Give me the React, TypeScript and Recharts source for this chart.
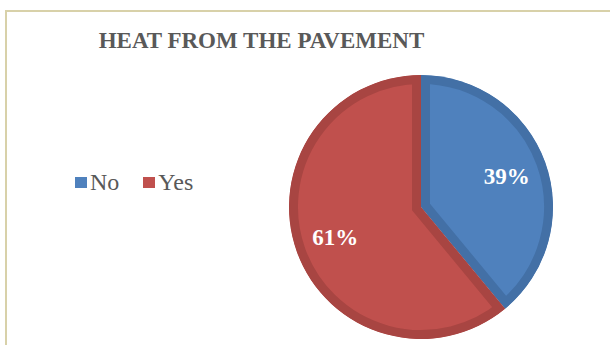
import React from 'react';
import { PieChart, Pie, Cell, Legend, Sector } from 'recharts';

const categories = ['No', 'Yes'];
const values = [39, 61];
const fills = ['#4f81bd', '#c0504d'];
const edges = ['#4370a6', '#a84542'];

const data = categories.map((name, i) => ({ name, value: values[i] }));

const SERIF = "Liberation Serif, Times New Roman, serif";

// draws a sector with its stroke kept inside the shape (like the Office inner border)
const InsetSector = (props: any) => {
  const id = `clip-${props.index}`;
  return (
    <g>
      <defs>
        <clipPath id={id}>
          <Sector {...props} stroke="none" />
        </clipPath>
      </defs>
      <Sector
        {...props}
        fill={fills[props.index]}
        stroke={edges[props.index]}
        strokeWidth={18}
        clipPath={`url(#${id})`}
      />
    </g>
  );
};

const renderLabel = (p: any) => {
  const RAD = Math.PI / 180;
  const r = p.outerRadius * 0.69;
  const x = p.cx + r * Math.cos(-p.midAngle * RAD);
  const y = p.cy + r * Math.sin(-p.midAngle * RAD);
  return (
    <text
      x={x}
      y={y}
      fill="#ffffff"
      textAnchor="middle"
      dominantBaseline="central"
      fontFamily={SERIF}
      fontWeight="bold"
      fontSize={23}
    >
      {`${p.value}%`}
    </text>
  );
};

const renderLegend = () => (
  <div style={{ display: 'flex', alignItems: 'center', fontFamily: SERIF, fontSize: 24, color: '#595959' }}>
    {categories.map((c, i) => (
      <span key={c} style={{ display: 'flex', alignItems: 'center', marginRight: 24 }}>
        <span style={{ width: 12, height: 11, background: fills[i], marginRight: 3, display: 'inline-block' }} />
        {c}
      </span>
    ))}
  </div>
);

export default function App() {
  return (
    <div style={{ position: 'absolute', left: 0, top: 0, width: 610, height: 345, background: '#fff', overflow: 'hidden', fontFamily: SERIF }}>
      <div
        style={{
          position: 'absolute',
          left: 5,
          top: 10,
          width: 620,
          height: 360,
          borderTop: '2px solid #d8d1a9',
          borderLeft: '2px solid #d8d1a9',
        }}
      />
      <div
        style={{
          position: 'absolute',
          left: 0,
          top: 28,
          width: 523,
          textAlign: 'center',
          fontFamily: SERIF,
          fontWeight: 'bold',
          fontSize: 23,
          color: '#595959',
        }}
      >
        HEAT FROM THE PAVEMENT
      </div>
      <PieChart width={610} height={345} margin={{ top: 0, right: 0, bottom: 0, left: 0 }} style={{ position: 'absolute', left: 0, top: 0 }}>
        <Pie
          data={data}
          dataKey="value"
          nameKey="name"
          cx={421}
          cy={207}
          outerRadius={132}
          startAngle={90}
          endAngle={-270}
          shape={InsetSector}
          label={renderLabel}
          labelLine={false}
          isAnimationActive={false}
        >
          {data.map((d, i) => (
            <Cell key={d.name} fill={fills[i]} />
          ))}
        </Pie>
        <Legend content={renderLegend} wrapperStyle={{ left: 75, top: 169, width: 220 }} />
      </PieChart>
    </div>
  );
}
